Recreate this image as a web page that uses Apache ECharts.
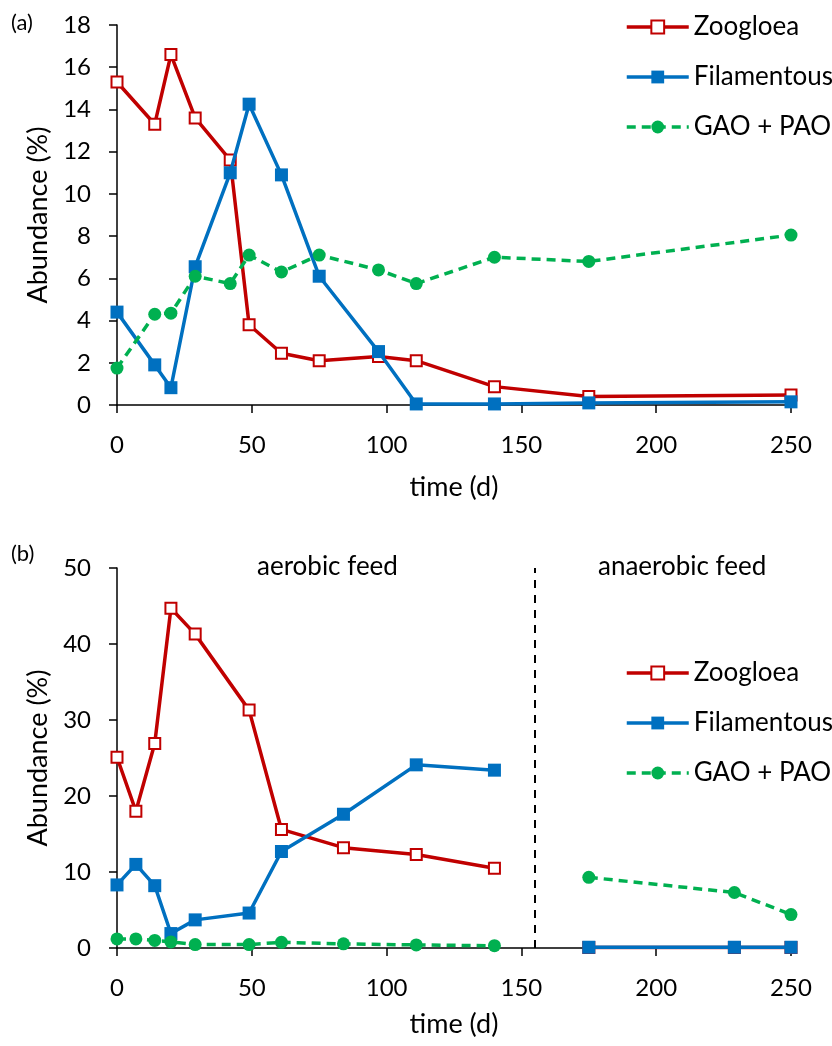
<!DOCTYPE html>
<html>
<head>
<meta charset="utf-8">
<script src="https://cdn.jsdelivr.net/npm/echarts@6/dist/echarts.min.js"></script>
<style>
  html, body { margin: 0; padding: 0; background: #fff; }
  #chart { width: 832px; height: 1046px; }
</style>
</head>
<body>
<div id="chart"></div>
<script>
// (a) sampling days and abundances
var daysA = [0, 14, 20, 29, 42, 49, 61, 75, 97, 111, 140, 175, 250];
var zoogloeaA = [15.3, 13.3, 16.6, 13.6, 11.6, 3.8, 2.45, 2.1, 2.3, 2.1, 0.87, 0.4, 0.47];
var filamentousA = [4.4, 1.9, 0.82, 6.55, 11.0, 14.25, 10.9, 6.1, 2.53, 0.05, 0.05, 0.1, 0.15];
var gaoPaoA = [1.75, 4.3, 4.35, 6.1, 5.75, 7.1, 6.3, 7.1, 6.4, 5.75, 7.0, 6.8, 8.05];

// (b) sampling days and abundances; '-' marks the gap at the feed change
var daysB = [0, 7, 14, 20, 29, 49, 61, 84, 111, 140, 155, 175, 229, 250];
var zoogloeaB = [25.1, 18.0, 26.9, 44.7, 41.3, 31.3, 15.6, 13.2, 12.3, 10.5, '-', 0.05, 0.05, 0.05];
var filamentousB = [8.3, 11.0, 8.2, 1.9, 3.7, 4.6, 12.7, 17.6, 24.1, 23.4, '-', 0.1, 0.1, 0.1];
var gaoPaoB = [1.2, 1.2, 1.0, 0.8, 0.45, 0.45, 0.75, 0.55, 0.4, 0.3, '-', 9.3, 7.3, 4.4];
var feedSwitchDay = 155;

var xTicks = [0, 50, 100, 150, 200, 250];
var yMaxA = 18, yStepA = 2;
var yMaxB = 50, yStepB = 10;

var names = ['Zoogloea', 'Filamentous', 'GAO + PAO'];
var RED = '#C00000', BLUE = '#0070C0', GREEN = '#00B050';
var FONT = 'Lato';
var LW = 3.5;

function pairs(xs, ys) {
  return xs.map(function (x, i) { return [x, ys[i]]; });
}

function xAxisOf(idx, gap) {
  return {
    gridIndex: idx,
    type: 'value',
    min: xTicks[0],
    max: xTicks[xTicks.length - 1],
    interval: 50,
    name: 'time (d)',
    nameLocation: 'middle',
    nameGap: gap,
    nameTextStyle: { fontFamily: FONT, fontSize: 27, color: '#000' },
    axisLine: { show: true, onZero: false, lineStyle: { color: '#000', width: 1.5 } },
    axisTick: { show: true, inside: false, length: 8, lineStyle: { color: '#000', width: 1.5 } },
    axisLabel: { fontFamily: FONT, fontSize: 24, color: '#000', margin: 28 },
    splitLine: { show: false }
  };
}

function yAxisOf(idx, max, step) {
  return {
    gridIndex: idx,
    type: 'value',
    min: 0,
    max: max,
    interval: step,
    name: 'Abundance (%)',
    nameLocation: 'middle',
    nameGap: 62,
    nameTextStyle: { fontFamily: FONT, fontSize: 27, color: '#000' },
    axisLine: { show: true, lineStyle: { color: '#000', width: 1.5 } },
    axisTick: { show: true, inside: false, length: 8, lineStyle: { color: '#000', width: 1.5 } },
    axisLabel: { fontFamily: FONT, fontSize: 24, color: '#000', margin: 26 },
    splitLine: { show: false }
  };
}

function zoogloeaSeries(idx, data) {
  return {
    name: names[0], type: 'line', xAxisIndex: idx, yAxisIndex: idx,
    data: data, connectNulls: false, z: 2,
    symbol: 'rect', symbolSize: 11,
    itemStyle: { color: '#fff', borderColor: RED, borderWidth: 2 },
    lineStyle: { color: RED, width: LW }
  };
}
function filamentousSeries(idx, data) {
  return {
    name: names[1], type: 'line', xAxisIndex: idx, yAxisIndex: idx,
    data: data, connectNulls: false, z: 3,
    symbol: 'rect', symbolSize: 13,
    itemStyle: { color: BLUE },
    lineStyle: { color: BLUE, width: LW }
  };
}
function gaoSeries(idx, data) {
  return {
    name: names[2], type: 'line', xAxisIndex: idx, yAxisIndex: idx,
    data: data, connectNulls: false, z: 4,
    symbol: 'circle', symbolSize: 13,
    itemStyle: { color: GREEN },
    lineStyle: { color: GREEN, width: LW, type: [9, 6] }
  };
}

function legendOf(top) {
  return {
    data: names, orient: 'vertical', left: 620, top: top,
    itemWidth: 62, itemHeight: 16, itemGap: 24,
    textStyle: { fontFamily: FONT, fontSize: 26, color: '#000', lineHeight: 26 },
    lineStyle: { width: LW },
    selectedMode: false
  };
}

var chart = echarts.init(document.getElementById('chart'), null, { renderer: 'canvas' });

var zooB = zoogloeaSeries(1, pairs(daysB, zoogloeaB));
zooB.markLine = {
  silent: true, symbol: 'none', z: 1,
  label: { show: false },
  lineStyle: { color: '#000', width: 2, type: [8, 7] },
  data: [{ xAxis: feedSwitchDay }]
};

var option = {
  backgroundColor: '#fff',
  animation: false,
  grid: [
    { left: 117, top: 25, width: 674, height: 380 },
    { left: 117, top: 568, width: 674, height: 380 }
  ],
  xAxis: [xAxisOf(0, 69), xAxisOf(1, 63)],
  yAxis: [yAxisOf(0, yMaxA, yStepA), yAxisOf(1, yMaxB, yStepB)],
  legend: [legendOf(9), legendOf(655)],
  graphic: [
    { type: 'text', left: 11, top: 12, style: { text: '(a)', font: '22px ' + FONT, fill: '#000' } },
    { type: 'text', left: 11, top: 543, style: { text: '(b)', font: '22px ' + FONT, fill: '#000' } },
    { type: 'text', left: 257, top: 554, style: { text: 'aerobic feed', font: '26px ' + FONT, fill: '#000' } },
    { type: 'text', left: 598, top: 554, style: { text: 'anaerobic feed', font: '26px ' + FONT, fill: '#000' } }
  ],
  series: [
    zoogloeaSeries(0, pairs(daysA, zoogloeaA)),
    filamentousSeries(0, pairs(daysA, filamentousA)),
    gaoSeries(0, pairs(daysA, gaoPaoA)),
    zooB,
    filamentousSeries(1, pairs(daysB, filamentousB)),
    gaoSeries(1, pairs(daysB, gaoPaoB))
  ]
};
chart.setOption(option);
</script>
</body>
</html>
